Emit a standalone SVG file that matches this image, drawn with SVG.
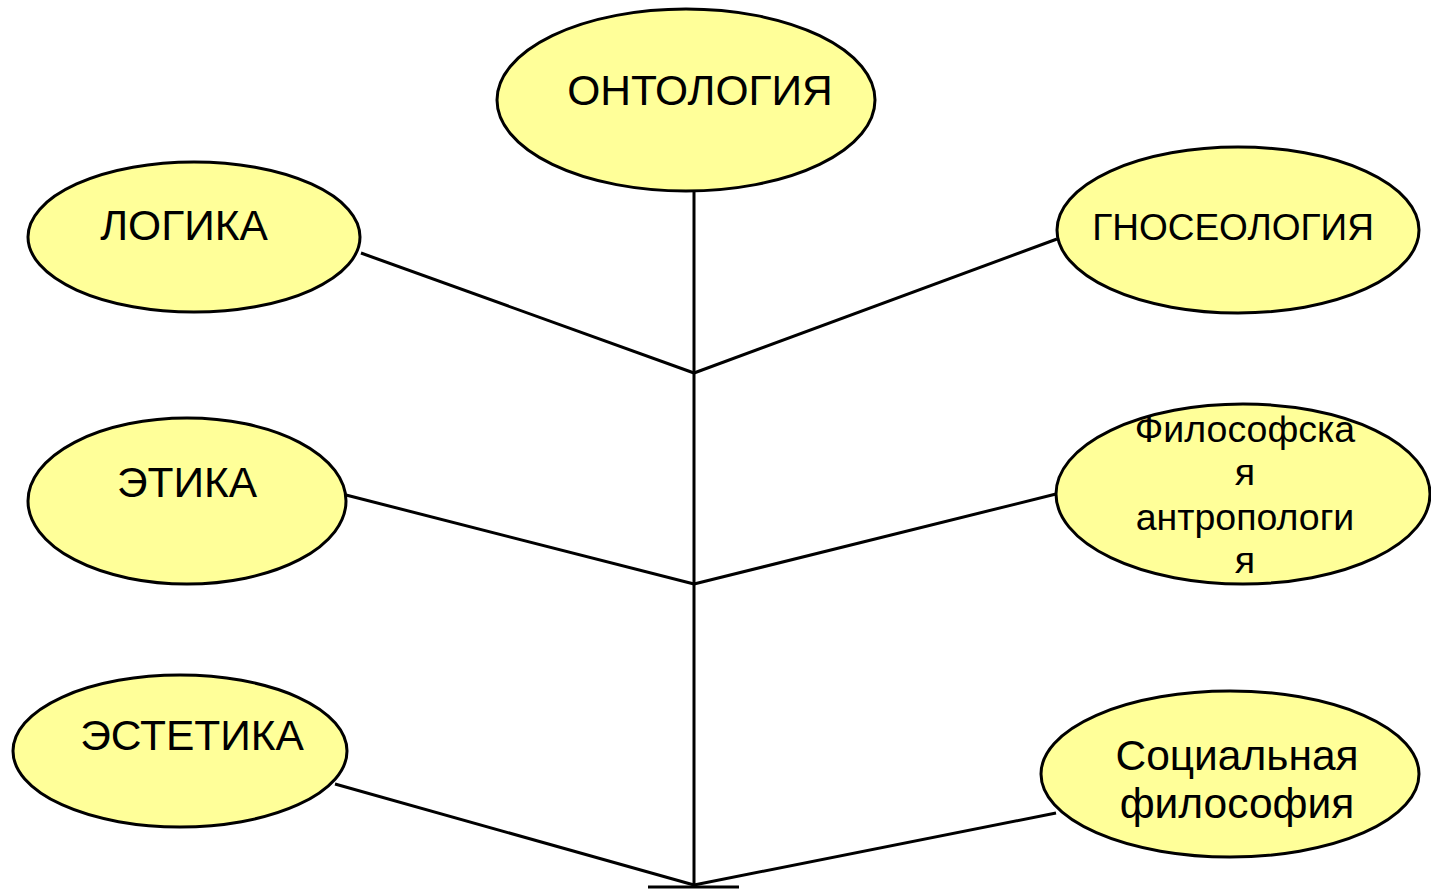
<svg xmlns="http://www.w3.org/2000/svg" width="1431" height="889" viewBox="0 0 1431 889">
<style>
.n{fill:#FFFF99;stroke:#000;stroke-width:3}
.c{stroke:#000;stroke-width:3;fill:none}
text{font-family:"Liberation Sans",Arial,sans-serif;fill:#000;text-anchor:middle}
.b{font-size:42.5px}
.m{font-size:37px}
.s{font-size:37.5px}
</style>
<rect width="1431" height="889" fill="#fff"/>
<g id="connectors">
<line class="c" x1="694" y1="192" x2="694" y2="886"/>
<line class="c" x1="361" y1="253" x2="694" y2="373"/>
<line class="c" x1="1057" y1="239" x2="694" y2="373"/>
<line class="c" x1="346" y1="495" x2="694" y2="584"/>
<line class="c" x1="1056" y1="494" x2="694" y2="584"/>
<line class="c" x1="335" y1="784" x2="694" y2="885"/>
<line class="c" x1="1056" y1="813" x2="694" y2="885"/>
<line class="c" x1="648" y1="887" x2="739" y2="887"/>
</g>
<g id="ontology"><ellipse class="n" cx="686" cy="100" rx="189" ry="91"/><text class="b" x="700" y="105">ОНТОЛОГИЯ</text></g>
<g id="logic"><ellipse class="n" cx="194" cy="237" rx="166" ry="75"/><text class="b" x="184" y="240">ЛОГИКА</text></g>
<g id="gnoseology"><ellipse class="n" cx="1238" cy="230" rx="181" ry="83"/><text class="m" x="1233" y="240">ГНОСЕОЛОГИЯ</text></g>
<g id="ethics"><ellipse class="n" cx="187" cy="501" rx="159" ry="83"/><text class="b" x="187" y="497">ЭТИКА</text></g>
<g id="anthropology"><ellipse class="n" cx="1243" cy="494" rx="187" ry="90"/><text class="s" x="1245" y="442">Философска</text><text class="s" x="1245" y="485">я</text><text class="s" x="1245" y="530">антропологи</text><text class="s" x="1245" y="573">я</text></g>
<g id="aesthetics"><ellipse class="n" cx="180" cy="751" rx="167" ry="76"/><text class="b" x="192" y="750">ЭСТЕТИКА</text></g>
<g id="social"><ellipse class="n" cx="1230" cy="774" rx="189" ry="83"/><text class="b" x="1237" y="770">Социальная</text><text class="b" x="1237" y="818">философия</text></g>
</svg>
